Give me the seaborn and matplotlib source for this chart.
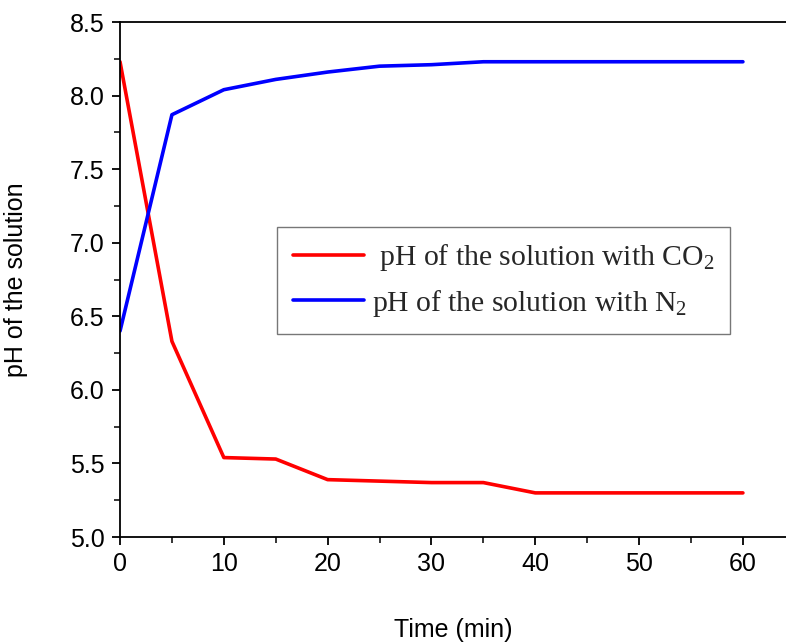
import matplotlib
matplotlib.use("Agg")
import matplotlib.pyplot as plt
from matplotlib.ticker import MultipleLocator
import seaborn as sns
import pandas as pd

time_min = [0, 5, 10, 15, 20, 25, 30, 35, 40, 45, 50, 55, 60]
ph_co2 = [8.23, 6.33, 5.54, 5.53, 5.39, 5.38, 5.37, 5.37, 5.30, 5.30, 5.30, 5.30, 5.30]
ph_n2 = [6.40, 7.87, 8.04, 8.11, 8.16, 8.20, 8.21, 8.23, 8.23, 8.23, 8.23, 8.23, 8.23]
series_labels = [" pH of the solution with CO$_2$", "pH of the solution with N$_2$"]
x_label = "Time (min)"
y_label = "pH of the solution"

df = pd.concat([
    pd.DataFrame({"time": time_min, "ph": ph_co2, "series": series_labels[0]}),
    pd.DataFrame({"time": time_min, "ph": ph_n2, "series": series_labels[1]}),
])

sns.set_theme(style="ticks")
plt.rcParams["font.family"] = ["Liberation Sans", "DejaVu Sans"]
plt.rcParams["mathtext.fontset"] = "custom"
plt.rcParams["mathtext.rm"] = "Liberation Serif"
plt.rcParams["mathtext.it"] = "Liberation Serif:italic"
plt.rcParams["mathtext.bf"] = "Liberation Serif:bold"

fig = plt.figure(figsize=(7.86, 6.44), dpi=100)
ax = fig.add_axes([0.1527, 0.1661, 0.8473, 0.7997])

sns.lineplot(data=df, x="time", y="ph", hue="series",
             palette={series_labels[0]: "#ff0000", series_labels[1]: "#0000ff"},
             linewidth=2.6, ax=ax, legend=True)

ax.set_xlim(0, 64.15)
ax.set_ylim(5.0, 8.5)
ax.xaxis.set_major_locator(MultipleLocator(10))
ax.xaxis.set_minor_locator(MultipleLocator(5))
ax.yaxis.set_major_locator(MultipleLocator(0.5))
ax.yaxis.set_minor_locator(MultipleLocator(0.25))
ax.yaxis.set_major_formatter(matplotlib.ticker.FormatStrFormatter("%.1f"))

for s in ["left", "bottom", "top"]:
    ax.spines[s].set_linewidth(1.3)
    ax.spines[s].set_color("black")
ax.spines["right"].set_visible(False)

ax.tick_params(axis="both", which="major", direction="out", length=6, width=1.3,
               labelsize=18, colors="black", top=False, right=False, pad=5)
ax.tick_params(axis="both", which="minor", direction="out", length=4, width=1.3,
               top=False, right=False)

ax.set_xlabel(x_label, fontsize=18, labelpad=30, color="black")
ax.set_ylabel(y_label, fontsize=18, labelpad=30, color="black")

handles, labels = ax.get_legend_handles_labels()
leg = ax.legend(handles, labels, loc="upper left", bbox_to_anchor=(0.236, 0.602),
                borderaxespad=0, frameon=True, fancybox=False,
                prop={"family": "Liberation Serif", "size": 21.3},
                handlelength=2.4, handletextpad=0.28, labelspacing=0.48,
                borderpad=0.52)
leg.get_frame().set_edgecolor("#555555")
leg.get_frame().set_linewidth(1.0)

fig.savefig("out.png", dpi=100, facecolor="white")
